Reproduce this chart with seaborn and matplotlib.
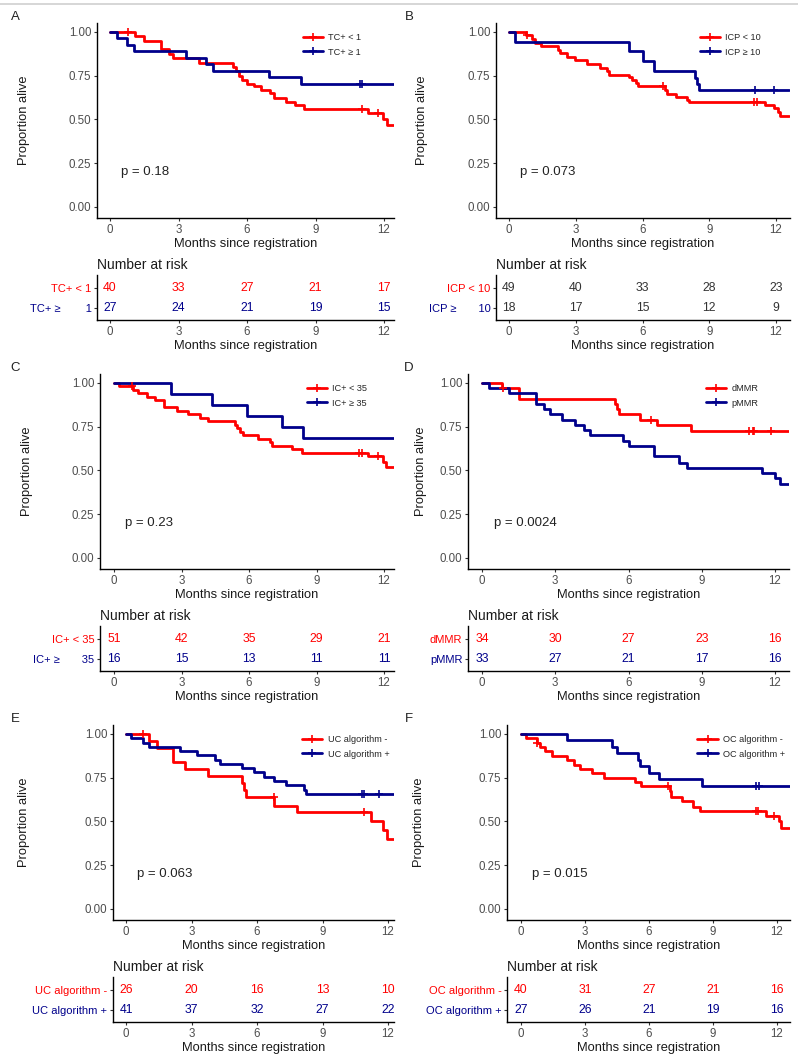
import matplotlib
matplotlib.use("Agg")
import matplotlib.pyplot as plt
import numpy as np
import pandas as pd
import seaborn as sns
from matplotlib.lines import Line2D

W, H = 798, 1061
RED = "#FF0000"
BLUE = "#00008B"
MONTHS = [0, 3, 6, 9, 12]

# ---- panel A : TC+ ----
a_legend = ["TC+ < 1", "TC+ ≥ 1"]
a_table = ["TC+ < 1", "TC+ ≥        1"]
a_p = "p = 0.18"
a_red_t = [0, 1.1, 1.5, 2.25, 2.6, 2.75, 3.9, 5.4, 5.5, 5.65, 5.8, 6.0, 6.3, 6.6, 7.0, 7.2, 7.7, 8.1, 8.5, 11.3, 11.95, 12.15, 12.45]
a_red_s = [1, .975, .95, .90, .875, .85, .825, .80, .775, .75, .725, .70, .69, .67, .65, .625, .60, .585, .56, .535, .505, .47, .47]
a_red_c = [0.8, 11.02, 11.72]
a_blue_t = [0, 0.3, 0.75, 1.07, 3.35, 4.2, 4.5, 6.95, 8.35, 12.45]
a_blue_s = [1, .963, .926, .889, .852, .815, .778, .741, .704, .704]
a_blue_c = [10.95, 11.05]
a_risk_red = [40, 33, 27, 21, 17]
a_risk_blue = [27, 24, 21, 19, 15]

# ---- panel B : ICP ----
b_legend = ["ICP < 10", "ICP ≥ 10"]
b_table = ["ICP < 10", "ICP ≥       10"]
b_p = "p = 0.073"
b_red_t = [0, 0.75, 1.05, 1.15, 1.45, 2.2, 2.3, 2.6, 2.95, 3.5, 4.1, 4.4, 4.5, 5.4, 5.55, 5.7, 5.8, 7.0, 7.1, 7.5, 8.0, 8.1, 11.5, 11.9, 12.1, 12.2, 12.6]
b_red_s = [1, .98, .96, .939, .918, .898, .877, .857, .837, .816, .796, .776, .755, .745, .725, .71, .69, .67, .645, .63, .61, .60, .58, .565, .545, .52, .52]
b_red_c = [0.82, 6.9, 11.0, 11.15]
b_blue_t = [0, 0.27, 5.4, 6.0, 6.5, 8.35, 8.45, 8.55, 12.6]
b_blue_s = [1, .944, .889, .833, .778, .735, .70, .667, .667]
b_blue_c = [11.05, 11.9]
b_risk_red = [49, 40, 33, 28, 23]
b_risk_blue = [18, 17, 15, 12, 9]

# ---- panel C : IC+ ----
c_legend = ["IC+ < 35", "IC+ ≥ 35"]
c_table = ["IC+ < 35", "IC+ ≥       35"]
c_p = "p = 0.23"
c_red_t = [0, 0.22, 0.86, 1.08, 1.45, 1.82, 2.2, 2.8, 3.3, 3.82, 4.19, 5.38, 5.45, 5.6, 5.75, 6.4, 6.95, 7.0, 7.9, 8.34, 11.3, 11.95, 12.1, 12.45]
c_red_s = [1, .98, .96, .94, .92, .90, .86, .84, .82, .80, .78, .76, .74, .72, .70, .68, .66, .64, .625, .60, .58, .55, .52, .52]
c_red_c = [0.8, 10.9, 11.0, 11.75]
c_blue_t = [0, 2.53, 4.37, 5.9, 7.48, 8.41, 12.45]
c_blue_s = [1, .9375, .875, .8125, .75, .6875, .6875]
c_blue_c = []
c_risk_red = [51, 42, 35, 29, 21]
c_risk_blue = [16, 15, 13, 11, 11]

# ---- panel D : MMR ----
d_legend = ["dMMR", "pMMR"]
d_table = ["dMMR", "pMMR"]
d_p = "p = 0.0024"
d_red_t = [0, 0.82, 1.5, 5.43, 5.52, 5.6, 6.48, 7.16, 8.55, 12.6]
d_red_s = [1, .97, .91, .88, .85, .82, .79, .76, .725, .725]
d_red_c = [0.85, 6.93, 10.95, 11.1, 11.15, 11.85]
d_blue_t = [0, 0.27, 1.09, 2.22, 2.55, 2.8, 3.27, 3.82, 4.16, 4.43, 5.77, 6.0, 7.05, 8.05, 8.39, 11.45, 12.0, 12.2, 12.6]
d_blue_s = [1, .97, .94, .88, .85, .82, .79, .76, .73, .70, .67, .64, .58, .545, .515, .485, .455, .425, .425]
d_blue_c = []
d_risk_red = [34, 30, 27, 23, 16]
d_risk_blue = [33, 27, 21, 17, 16]

# ---- panel E : UC algorithm ----
e_legend = ["UC algorithm -", "UC algorithm +"]
e_table = ["UC algorithm -", "UC algorithm +"]
e_p = "p = 0.063"
e_red_t = [0, 1.04, 1.42, 2.14, 2.69, 3.74, 5.3, 5.42, 5.51, 6.8, 7.83, 11.24, 11.77, 11.95, 12.3]
e_red_s = [1, .96, .92, .84, .80, .76, .72, .68, .64, .59, .555, .50, .45, .40, .40]
e_red_c = [0.78, 6.76, 10.9]
e_blue_t = [0, 0.23, 0.76, 1.04, 2.49, 3.25, 4.09, 4.32, 5.31, 5.85, 6.31, 6.79, 7.33, 8.17, 8.26, 12.3]
e_blue_s = [1, .976, .951, .927, .90, .878, .853, .83, .805, .78, .755, .73, .71, .68, .655, .655]
e_blue_c = [10.81, 10.89, 11.6]
e_risk_red = [26, 20, 16, 13, 10]
e_risk_blue = [41, 37, 32, 27, 22]

# ---- panel F : OC algorithm ----
f_legend = ["OC algorithm -", "OC algorithm +"]
f_table = ["OC algorithm -", "OC algorithm +"]
f_p = "p = 0.015"
f_red_t = [0, 0.23, 0.75, 0.9, 1.14, 1.45, 2.16, 2.47, 2.78, 3.33, 3.88, 5.36, 5.63, 7.0, 7.05, 7.55, 8.06, 8.4, 11.48, 12.08, 12.2, 12.6]
f_red_s = [1, .975, .95, .925, .90, .875, .85, .825, .80, .775, .75, .725, .70, .675, .64, .615, .585, .56, .53, .50, .465, .465]
f_red_c = [0.75, 6.9, 11.0, 11.1, 11.85]
f_blue_t = [0, 2.16, 4.27, 4.5, 5.47, 5.56, 5.98, 6.45, 8.48, 12.6]
f_blue_s = [1, .963, .926, .889, .852, .815, .778, .741, .704, .704]
f_blue_c = [11.0, 11.15]
f_risk_red = [40, 31, 27, 21, 16]
f_risk_blue = [27, 26, 21, 19, 16]

sns.set_theme(style="ticks")
plt.rcParams["font.family"] = ["Liberation Sans", "DejaVu Sans"]
TICK_C = "#4D4D4D"


def rect(l, t, r, b):
    return [l / W, 1 - b / H, (r - l) / W, (b - t) / H]


def surv_at(t, s, c):
    idx = np.searchsorted(t, c, side="right") - 1
    return np.asarray(s)[idx]


def style_axes(ax):
    sns.despine(ax=ax)
    for sp in ("left", "bottom"):
        ax.spines[sp].set_color("black")
        ax.spines[sp].set_linewidth(1.0)
    ax.tick_params(length=2.5, width=0.8, pad=1.5, labelsize=8.3, labelcolor=TICK_C, color="#333333")


def panel(letter, row, left, right, x0, x12, ylab_off, curves, legend, table_labels,
          risks, p_text, num_black, legend_x):
    dy = 351 * row
    s = (x12 - x0) / 12
    xlim = ((left - x0) / s, (right - x0) / s)

    ax = fig.add_axes(rect(left, 23 + dy, right, 218 + dy))
    handles = []
    for (t, sv, cens), color in zip(curves, [RED, BLUE]):
        df = pd.DataFrame({"month": t, "surv": sv})
        sns.lineplot(data=df, x="month", y="surv", drawstyle="steps-post", color=color,
                     lw=2.0, ax=ax, estimator=None, sort=False, legend=False)
        if len(cens):
            cy = surv_at(t, sv, cens)
            sns.scatterplot(x=cens, y=cy, marker="+", s=40, color=color, linewidth=1.2,
                            ax=ax, legend=False, zorder=3)
        handles.append(Line2D([], [], color=color, lw=2.0, marker="+", markersize=6, mew=1.2))
    ax.set_xlim(*xlim)
    ax.set_ylim(-0.063, 1.051)
    ax.set_xticks(MONTHS)
    ax.set_yticks([0, .25, .5, .75, 1])
    ax.set_yticklabels(["0.00", "0.25", "0.50", "0.75", "1.00"])
    style_axes(ax)
    ax.set_xlabel("Months since registration", fontsize=9.3, labelpad=1.5, color="#1a1a1a")
    ax.set_ylabel("Proportion alive", fontsize=9.3, color="#1a1a1a")
    ax.yaxis.set_label_coords(-ylab_off / (right - left), 0.5)
    ax.legend(handles, legend, loc="upper left", bbox_to_anchor=(legend_x, 0.965),
              frameon=False, fontsize=6.6, handlelength=2.2, labelspacing=0.55,
              handletextpad=0.6, borderaxespad=0)
    ax.text(0.5, 0.2, p_text, fontsize=9.5, va="center", color="#222222")
    fig.text(15 / W + (0.5 if left > 400 else 0) - (5 / W if left > 400 else 0),
             1 - (17 + dy) / H, letter, fontsize=9.5, ha="center", va="center", color="#222222")

    tab = fig.add_axes(rect(left, 275 + dy, right, 320 + dy))
    for i, (vals, color) in enumerate(zip(risks, [RED, BLUE])):
        yrow = 2 - i
        for m, v in zip(MONTHS, vals):
            tab.text(m, yrow, str(v), ha="center", va="center", fontsize=8.8,
                     color="#333333" if num_black else color)
    tab.set_xlim(*xlim)
    tab.set_ylim(0.4, 2.65)
    tab.set_xticks(MONTHS)
    tab.set_yticks([2, 1])
    tab.set_yticklabels(table_labels)
    style_axes(tab)
    tab.tick_params(axis="y", labelsize=8)
    for lab, color in zip(tab.get_yticklabels(), [RED, BLUE]):
        lab.set_color(color)
    tab.set_xlabel("Months since registration", fontsize=9.3, labelpad=1.5, color="#1a1a1a")
    tab.set_title("Number at risk", loc="left", fontsize=10, pad=4, color="#1a1a1a")


fig = plt.figure(figsize=(W / 100, H / 100), dpi=100)
fig.patch.set_facecolor("white")
fig.add_artist(Line2D([0, 1], [1 - 4 / H, 1 - 4 / H], color="#d0d0d0", lw=1.2,
                      transform=fig.transFigure))

panel("A", 0, 97, 394, 110, 384, 67,
      [(a_red_t, a_red_s, a_red_c), (a_blue_t, a_blue_s, a_blue_c)],
      a_legend, a_table, [a_risk_red, a_risk_blue], a_p, False, 0.68)
panel("B", 0, 496, 790, 509, 776, 68,
      [(b_red_t, b_red_s, b_red_c), (b_blue_t, b_blue_s, b_blue_c)],
      b_legend, b_table, [b_risk_red, b_risk_blue], b_p, True, 0.68)
panel("C", 1, 100, 394, 114, 384, 67,
      [(c_red_t, c_red_s, c_red_c), (c_blue_t, c_blue_s, c_blue_c)],
      c_legend, c_table, [c_risk_red, c_risk_blue], c_p, False, 0.69)
panel("D", 1, 468, 789, 482, 775, 41,
      [(d_red_t, d_red_s, d_red_c), (d_blue_t, d_blue_s, d_blue_c)],
      d_legend, d_table, [d_risk_red, d_risk_blue], d_p, False, 0.73)
panel("E", 2, 113, 394, 126, 388, 83,
      [(e_red_t, e_red_s, e_red_c), (e_blue_t, e_blue_s, e_blue_c)],
      e_legend, e_table, [e_risk_red, e_risk_blue], e_p, False, 0.66)
panel("F", 2, 507, 790, 521, 777, 82,
      [(f_red_t, f_red_s, f_red_c), (f_blue_t, f_blue_s, f_blue_c)],
      f_legend, f_table, [f_risk_red, f_risk_blue], f_p, False, 0.66)

fig.savefig("out.png", dpi=100, facecolor="white")
